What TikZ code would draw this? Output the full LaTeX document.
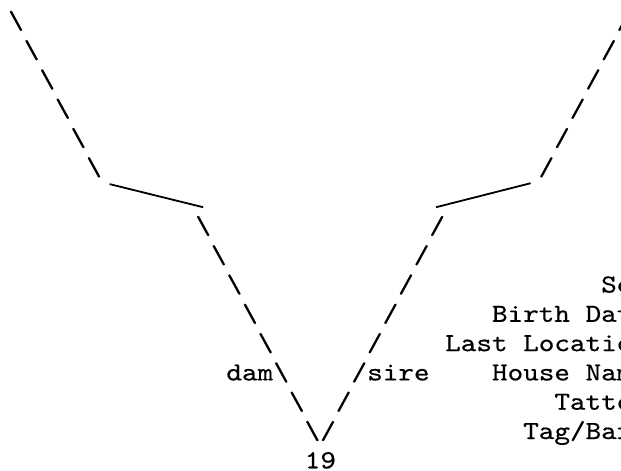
\documentclass[tikz,border=0pt]{standalone}
\usepackage{fontspec}
\usepackage{tikz}
\newfontfamily\asciifont{lmmono10-regular.otf}[FakeStretch=1.1429, FakeBold=0.5]

\tikzset{
	glyph/.style={inner sep=0pt, anchor=base, font=\asciifont\fontsize{26pt}{29.3pt}\selectfont},
	word/.style={glyph, anchor=base west},
	bar/.style={line width=1.8pt}
}

\begin{document}
\begin{tikzpicture}[x=15.6pt, y=-29.3pt]
		\clip (-1.0256,-0.983) rectangle (38.782,15.092);

		% upper branches
		\foreach \r in {0,...,5} {
			\node[glyph] (damup\r)  at (\r,\r)    {\textbackslash};
			\node[glyph] (sireup\r) at (39-\r,\r) {/};
		}

		% joins
		\coordinate (damstart)  at (6,5.3);
		\coordinate (damend)    at (12,6.09);
		\coordinate (sirestart) at (26.92,6.09);
		\coordinate (sireend)   at (32.99,5.27);
		\draw[bar] (damstart) -- (damend);
		\draw[bar] (sirestart) -- (sireend);

		% lower branches
		\foreach \r in {7,...,14} {
			\node[glyph] (damlo\r)  at (\r+5,\r)  {\textbackslash};
			\node[glyph] (sirelo\r) at (34-\r,\r) {/};
		}

		\node[glyph, anchor=base east] (damlabel) at (16.5,12) {dam};
		\node[word] (sirelabel) at (22.5,12) {sire};
		\node[word] (animal) at (18.5,15) {19};

		% record fields
		\foreach \r/\c/\t in {9/38/Se, 10/31/Birth Dat, 11/28/Last Locatio, 12/31/House Nam, 13/35/Tatto, 14/33/{Tag/Bar}} {
			\node[word] (field\r) at (\c-0.5,\r) {\t};
		}
	\end{tikzpicture}
\end{document}
